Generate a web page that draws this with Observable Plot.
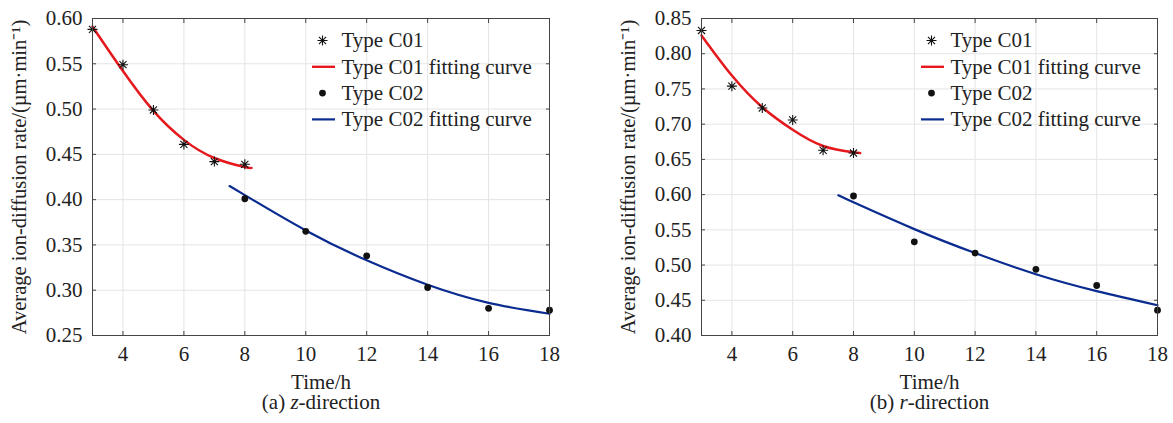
<!DOCTYPE html>
<html><head><meta charset="utf-8">
<script src="https://cdn.jsdelivr.net/npm/d3@7"></script>
<script src="https://cdn.jsdelivr.net/npm/@observablehq/plot@0.6"></script>
<style>
body{margin:0;background:#fff;}
#row{display:flex;width:1173px;}
.panel{flex:none;}
</style></head><body><div id="row"></div>
<script>
// ---- data ----
const hoursC01 = [3, 4, 5, 6, 7, 8];
const hoursC02 = [8, 10, 12, 14, 16, 18];
const zC01 = [0.588, 0.549, 0.499, 0.461, 0.442, 0.439];
const zC02 = [0.401, 0.365, 0.338, 0.303, 0.280, 0.278];
const rC01 = [0.833, 0.754, 0.723, 0.706, 0.663, 0.659];
const rC02 = [0.598, 0.533, 0.517, 0.494, 0.471, 0.436];
const fitHoursC01 = [3, 4, 5, 6, 7, 8, 8.22];
const fitHoursC02 = [7.5, 8, 10, 12, 14, 16, 18];
const zFitC01 = [0.591, 0.542, 0.498, 0.466, 0.446, 0.436, 0.435];
const zFitC02 = [0.415, 0.405, 0.366, 0.333, 0.306, 0.286, 0.274];
const rFitC01 = [0.826, 0.769, 0.724, 0.692, 0.669, 0.660, 0.659];
const rFitC02 = [0.599, 0.589, 0.551, 0.517, 0.487, 0.463, 0.443];
const xTicks = [4, 6, 8, 10, 12, 14, 16, 18];
const zTicks = [0.25, 0.30, 0.35, 0.40, 0.45, 0.50, 0.55, 0.60];
const rTicks = [0.40, 0.45, 0.50, 0.55, 0.60, 0.65, 0.70, 0.75, 0.80, 0.85];
const legendLabels = ["Type C01", "Type C01 fitting curve", "Type C02", "Type C02 fitting curve"];
const yLabel = "Average ion-diffusion rate/(\u00b5m\u00b7min\u207b\u00b9)";
const xLabel = "Time/h";
const captionTags = ["(a)", "(b)"];
const captionAxes = ["z", "r"];

// ---- styling ----
const RED = "#e5181d", BLUE = "#0a2b8f", INK = "#222";
const FONT = '"Liberation Serif", Tinos, "Times New Roman", Times, serif';

const asterisk8 = {
  draw(ctx, size) {
    const r = Math.sqrt(size / Math.PI), d = r * Math.SQRT1_2;
    ctx.moveTo(-r, 0); ctx.lineTo(r, 0);
    ctx.moveTo(0, -r); ctx.lineTo(0, r);
    ctx.moveTo(-d, -d); ctx.lineTo(d, d);
    ctx.moveTo(-d, d); ctx.lineTo(d, -d);
  }
};
const dash = {
  draw(ctx, size) {
    const r = Math.sqrt(size / Math.PI);
    ctx.moveTo(-r, 0); ctx.lineTo(r, 0);
  }
};

function zip(xs, ys) { return xs.map((x, i) => ({x, y: ys[i]})); }

function panel({width, marginLeft, marginRight, yDomain, yTicks, c01, c02, fit01, fit02, caption}) {
  const rowDy = legendLabels.map((_, i) => 22 + i * 26.3);
  const symDx = 230, txtDx = 249;
  const legendSymbols = [
    Plot.dot([0], {frameAnchor: "top-left", dx: symDx, dy: rowDy[0], symbol: asterisk8, r: 5, stroke: "#111", strokeWidth: 1.1}),
    Plot.dot([0], {frameAnchor: "top-left", dx: symDx + 1, dy: rowDy[1], symbol: dash, r: 11.5, stroke: RED, strokeWidth: 2.4}),
    Plot.dot([0], {frameAnchor: "top-left", dx: symDx, dy: rowDy[2], r: 3.4, fill: "#111"}),
    Plot.dot([0], {frameAnchor: "top-left", dx: symDx + 1, dy: rowDy[3], symbol: dash, r: 11.5, stroke: BLUE, strokeWidth: 2.2})
  ];
  const legendTexts = legendLabels.map((label, i) =>
    Plot.text([label], {frameAnchor: "top-left", dx: txtDx, dy: rowDy[i], text: d => d, textAnchor: "start", lineAnchor: "middle", fill: INK}));
  const svg = Plot.plot({
    width, height: 423, marginLeft, marginRight, marginTop: 18, marginBottom: 88,
    style: {fontFamily: FONT, fontSize: "21px", color: INK, background: "white"},
    x: {domain: [3, 18]},
    y: {domain: yDomain},
    marks: [
      Plot.gridX(xTicks, {stroke: "#e4e4e4", strokeOpacity: 1}),
      Plot.gridY(yTicks, {stroke: "#e4e4e4", strokeOpacity: 1}),
      Plot.line(zip(fitHoursC01, fit01), {x: "x", y: "y", curve: "natural", stroke: RED, strokeWidth: 2.5}),
      Plot.line(zip(fitHoursC02, fit02), {x: "x", y: "y", curve: "natural", stroke: BLUE, strokeWidth: 2.2}),
      Plot.dot(zip(hoursC01, c01), {x: "x", y: "y", symbol: asterisk8, r: 5, stroke: "#111", strokeWidth: 1.1}),
      Plot.dot(zip(hoursC02, c02), {x: "x", y: "y", r: 3.4, fill: "#111"}),
      Plot.axisX(xTicks, {tickSize: -4, tickPadding: 15, tickFormat: d => String(d), label: null, stroke: "#444", fill: INK}),
      Plot.axisX(xTicks, {anchor: "top", tickSize: -4, fill: "none", stroke: "#444", label: null}),
      Plot.axisY(yTicks, {tickSize: -4, tickPadding: 14, tickFormat: d3.format(".2f"), label: null, stroke: "#444", fill: INK}),
      Plot.axisY(yTicks, {anchor: "right", tickSize: -4, fill: "none", stroke: "#444", label: null}),
      Plot.frame({stroke: "#444"}),
      Plot.text([yLabel], {frameAnchor: "left", dx: -73, rotate: -90, text: d => d, textAnchor: "middle", lineAnchor: "middle", fontSize: 20.5, fill: INK}),
      Plot.text([xLabel], {frameAnchor: "bottom", dy: 39, text: d => d, textAnchor: "middle", lineAnchor: "top", fill: INK}),
      Plot.text([caption.join("")], {frameAnchor: "bottom", dy: 73, text: d => d, textAnchor: "middle", lineAnchor: "bottom", fill: INK}),
      ...legendSymbols,
      ...legendTexts
    ]
  });
  // italicise the direction letter in the caption
  d3.select(svg).selectAll("text").filter(function () { return this.textContent === caption.join(""); })
    .each(function () {
      const t = d3.select(this);
      t.text(null);
      t.append("tspan").text(caption[0]);
      t.append("tspan").attr("font-style", "italic").text(caption[1]);
      t.append("tspan").text(caption[2]);
    });
  return svg;
}

const configs = [
  {width: 586, marginLeft: 92, marginRight: 37, yDomain: [0.25, 0.60], yTicks: zTicks, c01: zC01, c02: zC02, fit01: zFitC01, fit02: zFitC02},
  {width: 587, marginLeft: 115, marginRight: 16, yDomain: [0.40, 0.85], yTicks: rTicks, c01: rC01, c02: rC02, fit01: rFitC01, fit02: rFitC02}
];

const row = document.getElementById("row");
configs.forEach((cfg, i) => {
  const div = document.createElement("div");
  div.className = "panel";
  div.style.width = cfg.width + "px";
  div.appendChild(panel({...cfg, caption: [captionTags[i] + " ", captionAxes[i], "-direction"]}));
  row.appendChild(div);
});
</script></body></html>
